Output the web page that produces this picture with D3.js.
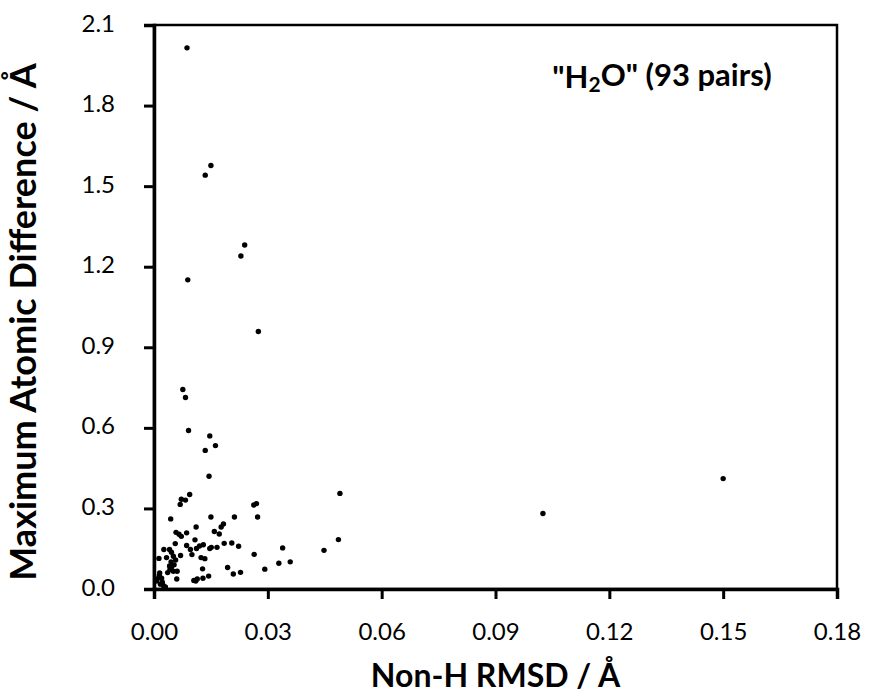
<!DOCTYPE html>
<html>
<head>
<meta charset="utf-8">
<script src="https://cdn.jsdelivr.net/npm/d3@7"></script>
<style>
    body { margin: 0; background: #fff; }
    text { font-family: Lato, "Open Sans", sans-serif; fill: #000; }
</style>
</head>
<body>
<div id="chart"></div>
<script>

// non-H RMSD (x) and maximum atomic difference (y), 93 pairs
var rmsd = [
    0.0087, 0.0150, 0.0135, 0.0239, 0.0229, 0.0089, 0.0275,
    0.0076, 0.0083, 0.0091, 0.0147, 0.0162, 0.0135, 0.0145,
    0.0490, 0.0486, 0.0339, 0.0448, 0.0292, 0.0329, 0.0359, 0.1025, 0.1500,
    0.0094, 0.0072, 0.0083, 0.0069, 0.0270, 0.0263, 0.0044, 0.0150, 0.0212, 0.0273,
    0.0183, 0.0177, 0.0111, 0.0159, 0.0172, 0.0058, 0.0066, 0.0072, 0.0086, 0.0108,
    0.0056, 0.0086, 0.0130, 0.0205, 0.0223, 0.0112, 0.0096, 0.0151, 0.0147, 0.0166,
    0.0026, 0.0041, 0.0046, 0.0100, 0.0264, 0.0013, 0.0033, 0.0051, 0.0057, 0.0045,
    0.0124, 0.0134, 0.0194, 0.0128, 0.0042, 0.0051, 0.0061, 0.0036, 0.0209, 0.0228,
    0.0144, 0.0129, 0.0114, 0.0105, 0.0110, 0.0060, 0.0014, 0.0020, 0.0008, 0.0022,
    0.0017, 0.0030, 0.0041, 0.0046, 0.0007, 0.0025, 0.0053, 0.0120, 0.0070, 0.0015,
    0.0185
];
var maxDiff = [
    2.015, 1.577, 1.541, 1.281, 1.240, 1.151, 0.959,
    0.743, 0.713, 0.590, 0.570, 0.534, 0.516, 0.420,
    0.356, 0.184, 0.153, 0.144, 0.074, 0.096, 0.101, 0.281, 0.411,
    0.352, 0.334, 0.331, 0.315, 0.318, 0.313, 0.261, 0.268, 0.268, 0.268,
    0.242, 0.231, 0.231, 0.214, 0.205, 0.211, 0.204, 0.196, 0.209, 0.183,
    0.169, 0.162, 0.165, 0.171, 0.159, 0.151, 0.147, 0.155, 0.151, 0.155,
    0.147, 0.147, 0.137, 0.128, 0.129, 0.114, 0.117, 0.122, 0.108, 0.101,
    0.117, 0.113, 0.080, 0.075, 0.072, 0.066, 0.066, 0.061, 0.056, 0.062,
    0.048, 0.040, 0.037, 0.032, 0.030, 0.037, 0.050, 0.040, 0.037, 0.025,
    0.018, 0.008, 0.086, 0.082, 0.030, 0.012, 0.090, 0.160, 0.125, 0.060,
    0.170
];

var xTicks = [0, 0.03, 0.06, 0.09, 0.12, 0.15, 0.18];
var yTicks = [0, 0.3, 0.6, 0.9, 1.2, 1.5, 1.8, 2.1];

var width = 871,
    height = 696;
var marginLeft = 154,
    marginTop = 25,
    marginRight = 34,
    marginBottom = 107;
var chartWidth = width - marginLeft - marginRight,
    chartHeight = height - marginTop - marginBottom;

var svg = d3.select("#chart")
    .append("svg")
    .attr("width", width)
    .attr("height", height);

var chart = svg.append("g")
    .attr("transform", "translate(" + marginLeft + "," + marginTop + ")");

// scales
var xScale = d3.scaleLinear().domain([0, 0.18]).range([0, chartWidth]);
var yScale = d3.scaleLinear().domain([0, 2.1]).range([chartHeight, 0]);

// frame
chart.append("rect")
    .attr("width", chartWidth)
    .attr("height", chartHeight)
    .attr("fill", "none")
    .attr("stroke", "#000")
    .attr("stroke-width", 2.5);

// x axis
var xAxis = d3.axisBottom(xScale)
    .tickValues(xTicks)
    .tickFormat(d3.format(".2f"))
    .tickSize(10)
    .tickPadding(24);
var xAxisG = chart.append("g")
    .attr("transform", "translate(0," + chartHeight + ")")
    .call(xAxis);

// y axis
var yAxis = d3.axisLeft(yScale)
    .tickValues(yTicks)
    .tickFormat(d3.format(".1f"))
    .tickSize(10)
    .tickPadding(29);
var yAxisG = chart.append("g").call(yAxis);

[xAxisG, yAxisG].forEach(function(g) {
    g.select(".domain").attr("stroke-width", 3.5);
    g.selectAll(".tick line").attr("stroke-width", 3);
    g.selectAll(".tick text")
        .attr("font-size", "24px")
        .attr("fill", "#000");
});
yAxisG.selectAll(".tick text").attr("dy", "0.25em");

// points
var points = rmsd.map(function(d, i) {
    return { x: d, y: maxDiff[i] };
});
chart.selectAll("circle")
    .data(points)
    .enter()
    .append("circle")
    .attr("cx", function(d) { return xScale(d.x); })
    .attr("cy", function(d) { return yScale(d.y); })
    .attr("r", 2.7)
    .attr("fill", "#000");

// axis titles
svg.append("text")
    .attr("x", marginLeft + chartWidth / 2)
    .attr("y", 687)
    .attr("text-anchor", "middle")
    .attr("font-size", "32px")
    .attr("font-weight", "bold")
    .text("Non-H RMSD / Å");

svg.append("text")
    .attr("transform", "translate(36,322) rotate(-90)")
    .attr("text-anchor", "middle")
    .attr("font-size", "36px")
    .attr("font-weight", "bold")
    .text("Maximum Atomic Difference / Å");

// label in the plot
var label = svg.append("text")
    .attr("x", 662)
    .attr("y", 88)
    .attr("text-anchor", "middle")
    .attr("font-size", "31px")
    .attr("font-weight", "bold");
label.append("tspan").text("\"H");
label.append("tspan").attr("font-size", "21px").attr("dy", "0.2em").text("2");
label.append("tspan").attr("dy", "-0.2em").text("O\" (93 pairs)");

</script>
</body>
</html>
